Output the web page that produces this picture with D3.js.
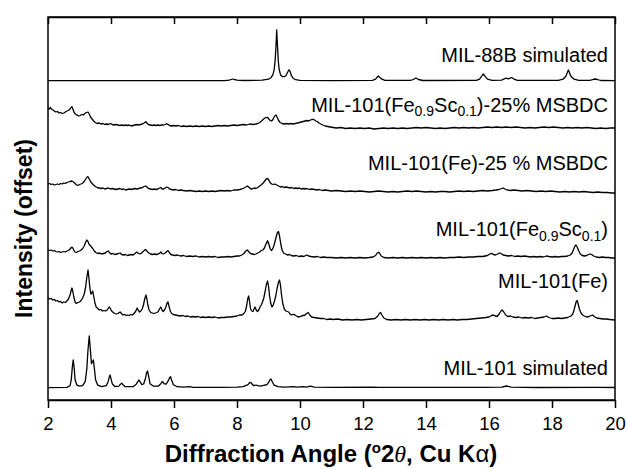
<!DOCTYPE html>
<html>
<head>
<meta charset="utf-8">
<script src="https://cdn.jsdelivr.net/npm/d3@7"></script>
<style>
  body { margin: 0; background: #fff; }
  svg { display: block; font-family: "Liberation Sans", Arial, sans-serif; }
</style>
</head>
<body>
<div id="app"></div>
<script>
// ---- data (2theta, intensity above each trace's own baseline) ----
const names = ["MIL-101 simulated", "MIL-101(Fe)", "MIL-101(Fe_{0.9}Sc_{0.1})",
  "MIL-101(Fe)-25 % MSBDC", "MIL-101(Fe_{0.9}Sc_{0.1})-25% MSBDC", "MIL-88B simulated"];
const offsets = [12.3, 80, 142, 208, 272, 319.3];   // vertical offset of every trace
const xTicks = [2, 4, 6, 8, 10, 12, 14, 16, 18, 20];

const sim101 = [[2.0,0],[2.6,0.3],[2.7,2],[2.74,8],[2.77,20],[2.80,27.7],[2.83,20],[2.86,8],[2.92,2.5],[3.0,1.5],[3.1,2],[3.18,6],[3.23,18],[3.27,38],[3.31,51.7],[3.35,36],[3.38,24],[3.41,26],[3.44,27.7],[3.47,20],[3.51,8],[3.58,2.5],[3.7,1],[3.85,2],[3.91,6],[3.94,10],[3.97,12.7],[4.0,9],[4.04,4],[4.12,1.2],[4.25,1.5],[4.3,3.5],[4.34,4.4],[4.38,3],[4.45,1],[4.7,1],[4.8,3.5],[4.86,6.5],[4.89,7.7],[4.92,6],[4.98,3],[5.04,4],[5.1,10],[5.13,15],[5.16,16.7],[5.19,12],[5.24,4],[5.35,1.5],[5.5,1.5],[5.58,4],[5.62,5.8],[5.64,6],[5.68,4],[5.75,3.5],[5.82,7],[5.86,10],[5.89,11],[5.92,8],[5.98,3],[6.1,1],[6.3,0.5],[6.5,1],[6.6,0.3],[7.5,0.3],[8.0,0.5],[8.2,1],[8.35,3],[8.4,5],[8.43,5.4],[8.47,4],[8.53,2],[8.6,2.7],[8.66,2],[8.75,1.5],[8.85,2.4],[8.9,2.7],[8.95,3],[9.0,5],[9.05,8.2],[9.08,8.7],[9.12,6],[9.18,2.5],[9.3,1],[9.5,0.5],[9.8,1],[9.9,0.5],[10.1,1],[10.2,0.5],[10.34,1.5],[10.45,0.5],[11,0.3],[12.3,0.5],[12.5,0.3],[14,0.3],[15.8,0.3],[16.4,0.5],[16.56,1.7],[16.7,0.5],[17.5,0.2],[19.5,0.3],[20,0.2]];

const fe = [[2.0,22],[2.05,21],[2.1,21.5],[2.15,20],[2.2,20.5],[2.25,19],[2.3,19.5],[2.35,18],[2.4,18.5],[2.45,17],[2.5,18],[2.55,17.5],[2.6,19],[2.65,21],[2.7,25],[2.73,29],[2.76,32],[2.79,28],[2.82,23],[2.86,18],[2.9,16.5],[2.95,17.5],[3.0,18],[3.05,19.5],[3.1,22],[3.15,26],[3.19,32],[3.23,42],[3.27,50],[3.3,42],[3.33,32],[3.36,26],[3.39,27],[3.42,29],[3.45,24],[3.49,17],[3.53,13],[3.58,11.5],[3.63,10],[3.68,10.5],[3.73,9],[3.78,9.5],[3.83,9],[3.88,10],[3.92,12],[3.95,13],[3.98,11.5],[4.02,9],[4.07,7.5],[4.12,6.5],[4.17,6],[4.22,6.5],[4.26,7.5],[4.29,8],[4.33,6.5],[4.38,5],[4.43,5.5],[4.48,4.5],[4.53,5],[4.58,4.5],[4.63,5.5],[4.68,5],[4.73,6.5],[4.78,8.5],[4.83,12],[4.87,9.5],[4.91,8],[4.95,9],[4.99,11],[5.03,15],[5.07,21],[5.11,25],[5.14,21],[5.17,15],[5.21,10],[5.26,7.5],[5.31,7],[5.36,6.5],[5.41,7],[5.46,7.5],[5.5,8.5],[5.54,11],[5.58,13],[5.62,10],[5.66,8.5],[5.7,10],[5.74,13],[5.78,17],[5.81,18],[5.84,14],[5.88,9],[5.93,6.5],[5.98,5.5],[6.05,5],[6.12,4.5],[6.2,4],[6.28,4.5],[6.36,3.5],[6.44,4],[6.52,3],[6.6,3.5],[6.68,3],[6.76,3.5],[6.84,2.5],[6.92,3],[7.0,2.5],[7.1,3],[7.2,2.5],[7.3,3],[7.4,2],[7.5,2.5],[7.6,2.5],[7.7,3],[7.8,3],[7.9,3.5],[8.0,4],[8.08,5],[8.16,5],[8.22,6.5],[8.27,9],[8.31,15],[8.34,21],[8.37,24],[8.4,18],[8.43,11],[8.47,9],[8.51,8.5],[8.54,11],[8.57,13],[8.61,10],[8.65,8.5],[8.69,10],[8.73,13],[8.77,15],[8.81,18],[8.85,22],[8.89,28],[8.93,35],[8.97,39],[9.0,34],[9.03,25],[9.07,17],[9.11,13],[9.15,15],[9.19,19],[9.23,24],[9.27,31],[9.31,37],[9.35,40],[9.38,35],[9.41,26],[9.45,17],[9.5,11],[9.55,9],[9.6,8.5],[9.64,8],[9.68,6],[9.72,5],[9.77,5.5],[9.82,5.5],[9.86,4.5],[9.92,3.5],[9.98,3],[10.04,4],[10.1,4.5],[10.16,5],[10.21,6.5],[10.26,7.5],[10.31,5],[10.37,3],[10.45,2.5],[10.55,2],[10.65,1.5],[10.75,1.5],[10.85,0.5],[10.95,1],[11.05,0.5],[11.2,1],[11.35,0],[11.5,0.5],[11.65,0],[11.8,0.5],[11.95,0],[12.1,0.5],[12.25,1],[12.38,1.5],[12.47,4],[12.53,7],[12.56,7.5],[12.6,5],[12.66,2],[12.75,0.5],[12.9,0],[13.05,0.5],[13.2,0],[13.35,0.5],[13.5,0],[13.65,0.5],[13.8,0],[13.95,0.5],[14.1,0],[14.25,0.5],[14.4,0],[14.55,0.5],[14.7,0],[14.85,0.5],[15.0,0],[15.15,0.5],[15.3,0.5],[15.45,1],[15.6,1.5],[15.75,2],[15.9,2.5],[16.0,3],[16.08,4.5],[16.14,5],[16.2,4],[16.26,3.5],[16.32,6],[16.38,9],[16.42,10],[16.47,8],[16.53,5],[16.6,3.5],[16.68,4],[16.76,3],[16.85,2.5],[16.95,3],[17.05,2],[17.15,2.5],[17.25,2],[17.35,2.5],[17.45,1.5],[17.55,2],[17.65,2.5],[17.75,3],[17.83,4],[17.9,2.5],[18.0,1.5],[18.1,1.5],[18.2,2],[18.3,1.5],[18.4,2],[18.5,2.5],[18.6,4],[18.66,6],[18.7,10],[18.74,15],[18.77,18.5],[18.8,19.5],[18.83,16],[18.87,11],[18.92,7],[18.97,5],[19.03,4],[19.1,3],[19.18,3.5],[19.24,4.5],[19.29,5],[19.34,3.5],[19.42,2],[19.52,1.5],[19.62,1],[19.72,1],[19.84,0.5],[20.0,0]];

const feSc = [[2.0,8],[2.05,7.5],[2.1,8],[2.15,7],[2.2,7.5],[2.25,6.5],[2.3,6],[2.35,6.5],[2.4,5.5],[2.45,6],[2.5,6.5],[2.55,6],[2.6,7],[2.65,7.5],[2.7,9],[2.74,10.5],[2.77,10.7],[2.81,8.5],[2.85,6],[2.9,5.5],[2.95,6.5],[3.0,7],[3.05,8],[3.1,9.5],[3.15,12],[3.19,15.5],[3.23,18],[3.27,16.5],[3.3,14],[3.34,12.5],[3.38,11],[3.42,9.5],[3.47,7],[3.52,5.5],[3.58,4.5],[3.64,5],[3.7,4],[3.76,4.5],[3.82,5],[3.87,6.5],[3.91,7],[3.95,5.5],[4.0,4],[4.06,4.5],[4.12,3.5],[4.18,4],[4.24,4.5],[4.29,5],[4.34,3.5],[4.4,3],[4.46,3.5],[4.52,2.5],[4.58,3],[4.64,3.5],[4.7,3],[4.76,4.5],[4.82,6],[4.87,4.5],[4.92,4],[4.97,5],[5.02,6.5],[5.07,8],[5.11,8.3],[5.15,6.5],[5.2,5],[5.26,4],[5.32,3.5],[5.38,4],[5.44,3.5],[5.5,4],[5.55,5],[5.58,6],[5.62,4.5],[5.67,4],[5.72,5],[5.77,6.5],[5.81,7.5],[5.85,5.5],[5.9,3.5],[5.96,3],[6.04,2.5],[6.12,3],[6.2,2],[6.3,2.5],[6.4,1.5],[6.5,2],[6.6,1.5],[6.7,2],[6.8,1],[6.9,1.5],[7.0,1],[7.1,1.5],[7.2,1],[7.3,1.5],[7.4,0.5],[7.5,1],[7.6,1],[7.7,1.5],[7.8,1],[7.9,1.5],[8.0,2],[8.08,2],[8.15,3],[8.22,4.5],[8.28,7],[8.33,8],[8.38,6],[8.43,4.5],[8.49,4],[8.55,3.5],[8.6,4],[8.66,5],[8.72,6],[8.77,7.5],[8.82,8],[8.87,10],[8.92,14],[8.97,17.3],[9.01,14],[9.05,9.5],[9.09,7.5],[9.13,9],[9.17,12],[9.21,17],[9.25,22],[9.29,26],[9.32,26.3],[9.35,22],[9.39,14],[9.43,8],[9.48,5],[9.54,4],[9.6,3],[9.66,3.5],[9.72,2.5],[9.8,2],[9.88,2.5],[9.96,1.5],[10.04,2],[10.12,1.5],[10.18,2.5],[10.22,3],[10.27,2],[10.35,1.5],[10.45,1],[10.55,1.5],[10.65,0.5],[10.75,1],[10.85,0.5],[11.0,0.5],[11.15,0],[11.3,0.5],[11.45,0],[11.6,0.5],[11.75,0],[11.9,0.5],[12.05,0],[12.2,0.5],[12.32,1],[12.4,2.5],[12.45,5],[12.49,5.7],[12.53,4.5],[12.58,2],[12.66,0.5],[12.8,0],[12.95,0.5],[13.1,0],[13.25,0.5],[13.4,0],[13.55,0.5],[13.7,0],[13.85,0.5],[14.0,0],[14.15,0.5],[14.3,0],[14.45,0.5],[14.6,0],[14.75,0.5],[14.9,0.5],[15.05,1],[15.2,0.5],[15.35,1],[15.5,1],[15.65,1.5],[15.8,1.5],[15.95,2.5],[16.03,4],[16.08,4.7],[16.14,3.5],[16.2,3],[16.27,4],[16.33,5],[16.38,4.5],[16.45,3],[16.53,2.5],[16.62,2],[16.72,2.5],[16.82,1.5],[16.92,2],[17.02,1.5],[17.12,2],[17.22,1.5],[17.32,1],[17.42,1.5],[17.52,1],[17.62,1.5],[17.72,1],[17.82,2],[17.9,1.5],[18.0,1],[18.1,1.5],[18.2,1],[18.3,1.5],[18.4,1.5],[18.5,2],[18.58,3],[18.64,5],[18.69,9],[18.73,12],[18.76,13],[18.8,11],[18.85,7],[18.9,4],[18.96,2.5],[19.03,2],[19.1,2.5],[19.16,3.5],[19.21,4],[19.26,3.5],[19.32,2],[19.4,1],[19.5,0.5],[19.6,1],[19.7,0.5],[19.8,0.5],[19.9,0],[20.0,0]];

const fe25 = [[2.0,8],[2.05,8.5],[2.1,7.5],[2.15,8],[2.2,7],[2.25,7.5],[2.3,8],[2.35,7.5],[2.4,8.5],[2.45,8],[2.5,9],[2.55,8.5],[2.6,9.5],[2.65,10],[2.7,10.5],[2.76,11],[2.81,10],[2.86,8.5],[2.91,7],[2.95,6.5],[3.0,7.5],[3.05,8],[3.1,9],[3.15,10.5],[3.2,13],[3.24,15],[3.27,15.3],[3.31,13],[3.35,10.5],[3.4,8.5],[3.45,7],[3.5,5.5],[3.56,4.5],[3.62,4],[3.68,3.5],[3.74,4],[3.8,3],[3.86,3.5],[3.92,4],[3.98,3],[4.04,3.5],[4.1,3],[4.16,2.5],[4.22,3],[4.28,3.5],[4.34,2.5],[4.4,3],[4.46,2],[4.52,2.5],[4.58,3],[4.64,2.5],[4.7,3],[4.76,3.5],[4.82,3],[4.88,3.5],[4.94,4],[5.0,4.5],[5.05,5.5],[5.1,6],[5.14,5],[5.19,3.5],[5.25,3],[5.31,2.5],[5.37,3],[5.43,2.5],[5.49,3],[5.54,4],[5.58,4.5],[5.62,3],[5.67,3],[5.72,4],[5.77,5],[5.81,4.5],[5.86,3],[5.92,2.5],[5.98,2],[6.06,2.5],[6.14,1.5],[6.22,2],[6.3,1.5],[6.4,1],[6.5,1.5],[6.6,1],[6.7,0.5],[6.8,1],[6.9,0.5],[7.0,1],[7.1,0.5],[7.2,1],[7.3,0.5],[7.4,1],[7.5,1.5],[7.6,1],[7.7,1.5],[7.8,1],[7.9,2],[8.0,2],[8.08,2.5],[8.15,3],[8.22,4],[8.28,5],[8.33,6],[8.37,5],[8.42,3.5],[8.48,3],[8.54,4],[8.6,3.5],[8.66,4.5],[8.72,6],[8.78,7.5],[8.83,9],[8.88,11],[8.93,13],[8.97,13.7],[9.01,12],[9.05,9.5],[9.1,8],[9.15,7.5],[9.2,8],[9.26,7],[9.32,6],[9.38,5],[9.44,5.5],[9.5,4.5],[9.56,5],[9.62,4.5],[9.68,4],[9.74,4.5],[9.8,3.5],[9.86,4],[9.92,3.5],[9.98,4],[10.04,3],[10.1,3.5],[10.16,3],[10.22,3.5],[10.3,2.5],[10.38,3],[10.46,2.5],[10.54,2],[10.62,2.5],[10.7,1.5],[10.8,2],[10.9,1.5],[11.0,1],[11.15,1.5],[11.3,1],[11.45,0.5],[11.6,1],[11.75,0.5],[11.9,1],[12.05,0.5],[12.2,0],[12.35,0.5],[12.5,1],[12.65,0.5],[12.8,0],[12.95,0.5],[13.1,0],[13.25,0.5],[13.4,1],[13.55,0.5],[13.7,1],[13.85,0.5],[14.0,0],[14.15,0.5],[14.3,0],[14.45,0.5],[14.6,0.5],[14.75,0],[14.9,0.5],[15.05,1],[15.2,0.5],[15.35,1],[15.5,0.5],[15.65,1],[15.8,1.5],[15.95,1],[16.1,1.5],[16.22,2],[16.32,2.5],[16.4,3.5],[16.45,4],[16.5,3],[16.58,2],[16.68,1.5],[16.8,2],[16.92,1.5],[17.05,1],[17.2,1.5],[17.35,1],[17.5,0.5],[17.65,1],[17.8,0.5],[17.95,1],[18.1,0.5],[18.25,0],[18.4,0.5],[18.55,0],[18.7,0.5],[18.85,0],[19.0,0.5],[19.15,0],[19.3,-0.5],[19.45,0],[19.6,-0.5],[19.75,-0.5],[19.9,-1],[20.0,-1]];

const feSc25 = [[2.0,20],[2.04,19],[2.08,20.5],[2.12,18.5],[2.16,18],[2.2,17],[2.25,16],[2.3,16.5],[2.35,15],[2.4,15.5],[2.45,14.5],[2.5,15],[2.55,16],[2.6,17],[2.65,17.5],[2.7,19],[2.73,20.5],[2.76,21.3],[2.79,19],[2.83,15.5],[2.87,14],[2.92,13],[2.97,12],[3.02,12.5],[3.07,13.5],[3.12,13],[3.17,14.5],[3.22,15.5],[3.27,16],[3.31,14],[3.35,11],[3.4,9],[3.45,7],[3.5,5.5],[3.56,4.5],[3.62,5],[3.68,4],[3.74,4.5],[3.8,3.5],[3.86,4],[3.92,3.5],[3.98,4.5],[4.04,3.5],[4.1,3],[4.16,3.5],[4.22,3],[4.28,2.5],[4.34,3],[4.4,2.5],[4.46,3],[4.52,2.5],[4.58,3],[4.64,2],[4.7,2.5],[4.76,3],[4.82,3.5],[4.88,3],[4.94,3.5],[5.0,4],[5.05,5],[5.1,6.3],[5.14,5],[5.19,3.5],[5.25,3],[5.31,2.5],[5.37,3],[5.43,2.5],[5.49,3],[5.55,2.5],[5.61,3],[5.67,3],[5.72,3.5],[5.77,4.3],[5.81,3.5],[5.86,2.5],[5.92,2],[5.98,2.5],[6.06,2],[6.14,2.5],[6.22,1.5],[6.3,2],[6.4,1.5],[6.5,2],[6.6,1.5],[6.7,2],[6.8,1.5],[6.9,2],[7.0,1.5],[7.1,2],[7.2,1.5],[7.3,2],[7.4,2.5],[7.5,2],[7.6,2.5],[7.7,2],[7.8,2.5],[7.9,3],[8.0,2.5],[8.1,3],[8.2,3.5],[8.3,3],[8.4,4],[8.5,3.5],[8.6,4],[8.66,4.5],[8.72,5.5],[8.78,7],[8.83,8.5],[8.88,10],[8.93,10.5],[8.97,10.7],[9.01,9],[9.05,7.5],[9.1,7],[9.14,8.5],[9.18,11],[9.21,12.5],[9.24,13],[9.28,10.5],[9.32,7.5],[9.37,5.5],[9.43,4.5],[9.5,4],[9.57,4.5],[9.64,4],[9.71,4.5],[9.78,4],[9.85,4.5],[9.92,5],[9.98,5.5],[10.04,6],[10.1,6.5],[10.16,7],[10.22,7.5],[10.28,7],[10.33,8],[10.38,8.5],[10.42,8.7],[10.46,8],[10.5,7],[10.55,6.5],[10.6,5],[10.66,4],[10.72,3],[10.8,2],[10.88,1.5],[10.96,1],[11.05,0.5],[11.15,0],[11.3,0.5],[11.45,-0.5],[11.6,0],[11.75,-0.5],[11.9,0],[12.05,-0.5],[12.2,0],[12.35,-1],[12.5,-0.5],[12.65,0],[12.8,-0.5],[12.95,0],[13.1,-0.5],[13.25,0],[13.4,-0.5],[13.55,0],[13.7,0.5],[13.85,0],[14.0,0.5],[14.15,0],[14.3,-0.5],[14.45,0],[14.6,-0.5],[14.75,0],[14.9,0.5],[15.05,0],[15.2,0.5],[15.35,0],[15.5,0.5],[15.65,0],[15.8,0.5],[15.95,1],[16.1,0.5],[16.25,1],[16.4,0.5],[16.55,1],[16.7,0.5],[16.85,1],[17.0,0.5],[17.15,0],[17.3,0.5],[17.45,0],[17.6,0.5],[17.75,1],[17.9,0.5],[18.05,1],[18.2,0.5],[18.35,0],[18.5,0.5],[18.65,0],[18.8,0.5],[18.95,0],[19.1,0.5],[19.25,0],[19.4,-0.5],[19.55,0],[19.7,-0.5],[19.85,0],[20.0,0]];

const mil88 = [[2.0,0],[7.6,0],[7.75,0.5],[7.82,1.2],[7.87,1.7],[7.92,1.2],[8.0,0.5],[8.2,0.2],[8.8,0.5],[9.0,1.5],[9.08,3],[9.14,6],[9.18,11],[9.21,20],[9.235,33],[9.26,50.7],[9.285,35],[9.31,20],[9.34,11],[9.38,6],[9.44,4],[9.5,4],[9.55,5],[9.6,8],[9.64,10.5],[9.66,10.7],[9.69,9],[9.73,5],[9.78,2.5],[9.86,1],[10.0,0.3],[11.0,0],[12.3,0.3],[12.4,1.5],[12.45,3.5],[12.49,4.7],[12.53,3.5],[12.6,1.5],[12.7,0.3],[13.5,0.3],[13.6,1.2],[13.68,2.7],[13.76,1.2],[13.9,0.2],[15.6,0.3],[15.7,1.5],[15.77,4.5],[15.82,6.7],[15.87,4.5],[15.95,1.5],[16.1,0.3],[16.4,0.5],[16.5,2],[16.54,2.7],[16.6,1.8],[16.65,2.3],[16.72,3.2],[16.8,1.5],[16.9,0.3],[18.2,0.3],[18.35,1.5],[18.44,4.5],[18.49,8.5],[18.52,10.7],[18.55,8.5],[18.6,4.5],[18.7,1.5],[18.85,0.3],[19.2,0.3],[19.3,1.2],[19.37,1.7],[19.44,1.2],[19.55,0.2],[20,0]];

const traces = [sim101, fe, feSc, fe25, feSc25, mil88];

// ---- layout ----
const SVG_WIDTH = 627, SVG_HEIGHT = 469;
const MARGIN = { TOP: 17, RIGHT: 12, BOTTOM: 69, LEFT: 48 };
const labelLift = [12.7, 32, 22, 22, 16.5, 18.7];   // label baseline above trace baseline (px)

const svg = d3.select("#app").append("svg")
  .attr("width", SVG_WIDTH)
  .attr("height", SVG_HEIGHT);

const x = d3.scaleLinear()
  .domain([2, 20])
  .range([MARGIN.LEFT, SVG_WIDTH - MARGIN.RIGHT]);

const y = d3.scaleLinear()
  .domain([0, 383])
  .range([SVG_HEIGHT - MARGIN.BOTTOM, MARGIN.TOP]);

const line = d3.line()
  .x(d => x(d[0]))
  .y(d => y(d[1]));

// traces
svg.append("g").selectAll("path")
  .data(traces)
  .enter()
  .append("path")
  .attr("fill", "none")
  .attr("stroke", "#000")
  .attr("stroke-width", 1.3)
  .attr("stroke-linejoin", "round")
  .attr("d", (d, i) => line(d.map(p => [p[0], p[1] + offsets[i]])));

// bottom axis
svg.append("g")
  .attr("transform", `translate(0,${SVG_HEIGHT - MARGIN.BOTTOM})`)
  .call(d3.axisBottom(x).tickValues(xTicks).tickSize(8).tickPadding(8.5).tickSizeOuter(0))
  .call(g => g.selectAll("line, path").attr("stroke", "#000").attr("stroke-width", 1.5))
  .call(g => g.selectAll("text").attr("fill", "#000").style("font-size", "18.5px")
    .style("font-family", '"Liberation Sans", Arial, sans-serif'));

// top axis, ticks pointing in
svg.append("g")
  .attr("transform", `translate(0,${MARGIN.TOP})`)
  .call(d3.axisTop(x).tickValues(xTicks).tickSize(-7).tickSizeOuter(0).tickFormat(""))
  .call(g => g.selectAll("line, path").attr("stroke", "#000").attr("stroke-width", 1.5));

// left / right frame
svg.append("rect")
  .attr("x", MARGIN.LEFT)
  .attr("y", MARGIN.TOP)
  .attr("width", SVG_WIDTH - MARGIN.RIGHT - MARGIN.LEFT)
  .attr("height", SVG_HEIGHT - MARGIN.BOTTOM - MARGIN.TOP)
  .attr("fill", "none")
  .attr("stroke", "#000")
  .attr("stroke-width", 1.5);

// labels, "_{..}" becomes a subscript
const labels = svg.append("g")
  .style("font-size", "20px")
  .attr("text-anchor", "end");

names.forEach((name, i) => {
  const t = labels.append("text")
    .attr("x", 608)
    .attr("y", y(offsets[i]) - labelLift[i]);
  let shift = 0;   // pending baseline return after a subscript
  name.split(/(_\{[^}]*\})/).filter(s => s).forEach(part => {
    if (part.startsWith("_{")) {
      t.append("tspan").attr("dy", 4.5 + shift).style("font-size", "14px").text(part.slice(2, -1));
      shift = -4.5;
    } else {
      t.append("tspan").attr("dy", shift).text(part);
      shift = 0;
    }
  });
});

// axis titles
const xt = svg.append("text")
  .attr("x", 331)
  .attr("y", 462)
  .attr("text-anchor", "middle")
  .style("font-size", "24px")
  .style("font-weight", "bold");
xt.append("tspan").text("Diffraction Angle (");
xt.append("tspan").attr("dy", -9).style("font-size", "15px").text("o");
xt.append("tspan").attr("dy", 9).text("2");
xt.append("tspan").style("font-style", "italic").style("font-weight", "normal")
  .style("font-family", '"Liberation Serif", serif').text("\u03b8");
xt.append("tspan").text(", Cu K");
xt.append("tspan").style("font-weight", "normal").text("\u03b1");
xt.append("tspan").text(")");

svg.append("text")
  .attr("transform", "translate(32,228.5) rotate(-90)")
  .attr("text-anchor", "middle")
  .style("font-size", "23px")
  .style("font-weight", "bold")
  .text("Intensity (offset)");
</script>
</body>
</html>
